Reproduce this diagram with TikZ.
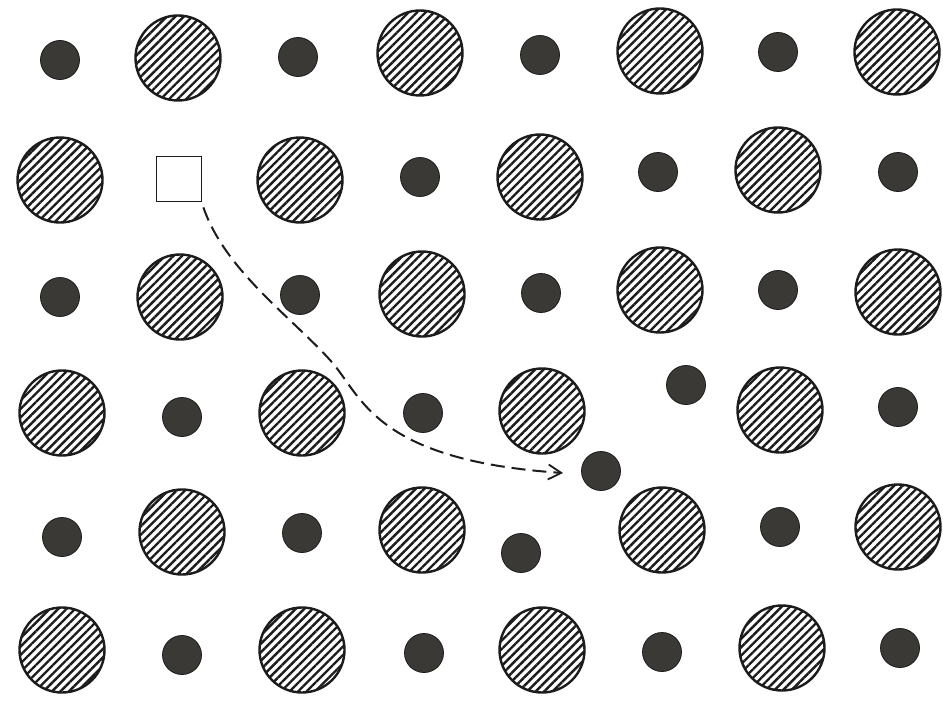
\documentclass[tikz,border=0pt]{standalone}
\usetikzlibrary{patterns.meta,arrows.meta}
\definecolor{ink}{HTML}{1C1C1C}
\definecolor{dot}{HTML}{3B3936}
\begin{document}
\begin{tikzpicture}[x=1pt,y=-1pt,
  big/.style={circle,draw=ink,line width=2.4pt,minimum size=85pt,inner sep=0pt,
    pattern={Lines[angle=45,distance=6pt,line width=2.4pt]},pattern color=ink},
  small/.style={circle,fill=dot,draw=ink,line width=0.8pt,minimum size=39pt,inner sep=0pt},
  vac/.style={rectangle,draw=ink,line width=1.8pt,minimum size=45pt,inner sep=0pt,fill=white},
  path/.style={draw=ink,line width=2pt,dash pattern=on 14pt off 7pt,
    -{Straight Barb[length=13pt,width=15pt,line width=1.8pt]}}]
\useasboundingbox (0,0) rectangle (943,701);
\fill[white] (0,0) rectangle (943,701);
% row 1
\node[small] (a1) at (60,60) {};
\node[big]   (a2) at (178,58) {};
\node[small] (a3) at (298,57) {};
\node[big]   (a4) at (420,53) {};
\node[small] (a5) at (540,55) {};
\node[big]   (a6) at (660,51) {};
\node[small] (a7) at (778,52) {};
\node[big]   (a8) at (897,52) {};
% row 2
\node[big]   (b1) at (60,180) {};
\node[vac]   (sq) at (179,179) {};
\node[big]   (b3) at (300,180) {};
\node[small] (b4) at (420,177) {};
\node[big]   (b5) at (540,177) {};
\node[small] (b6) at (658,172) {};
\node[big]   (b7) at (778,170) {};
\node[small] (b8) at (898,172) {};
% row 3
\node[small] (c1) at (60,297) {};
\node[big]   (c2) at (180,297) {};
\node[small] (c3) at (300,295) {};
\node[big]   (c4) at (422,294) {};
\node[small] (c5) at (541,293) {};
\node[big]   (c6) at (660,290) {};
\node[small] (c7) at (778,290) {};
\node[big]   (c8) at (898,292) {};
% row 4
\node[big]   (d1) at (62,413) {};
\node[small] (d2) at (182,417) {};
\node[big]   (d3) at (302,413) {};
\node[small] (d4) at (423,413) {};
\node[big]   (d5) at (542,411) {};
\node[small] (d6) at (686,385) {};
\node[big]   (d7) at (780,410) {};
\node[small] (d8) at (898,407) {};
% interstitial
\node[small] (it) at (601,471) {};
% row 5
\node[small] (e1) at (62,537) {};
\node[big]   (e2) at (182,532) {};
\node[small] (e3) at (302,533) {};
\node[big]   (e4) at (422,530) {};
\node[small] (e5) at (521,553) {};
\node[big]   (e6) at (662,530) {};
\node[small] (e7) at (780,527) {};
\node[big]   (e8) at (898,527) {};
% row 6
\node[big]   (f1) at (62,650) {};
\node[small] (f2) at (182,655) {};
\node[big]   (f3) at (302,650) {};
\node[small] (f4) at (424,653) {};
\node[big]   (f5) at (542,650) {};
\node[small] (f6) at (662,652) {};
\node[big]   (f7) at (782,648) {};
\node[small] (f8) at (900,648) {};
% migration path
\coordinate (mid) at (330,360);
\coordinate (tip) at (563,473);
\draw[path] ([shift={(1pt,-5pt)}]sq.south east) .. controls (225,270) and (290,316) .. (mid)
  .. controls (362,395) and (372,460) .. (tip);
\end{tikzpicture}
\end{document}
